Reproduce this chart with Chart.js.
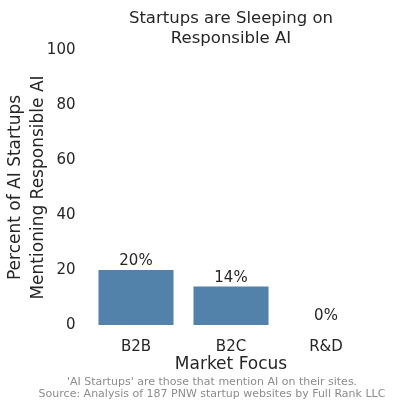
<!DOCTYPE html>
<html><head><meta charset="utf-8">
<script src="https://cdn.jsdelivr.net/npm/chart.js@4/dist/chart.umd.min.js"></script>
<style>html,body{margin:0;padding:0;background:#fff}#wrap{width:395px;height:409px;position:relative}</style>
</head><body><div id="wrap"><canvas id="c" width="395" height="409"></canvas></div>
<script>
const categories = ["B2B", "B2C", "R&D"];
const percentValues = [20, 14, 0];
const yTicks = [0, 20, 40, 60, 80, 100];
const titleLines = ["Startups are Sleeping on", "Responsible AI"];
const yTitleLines = ["Percent of AI Startups", "Mentioning Responsible AI"];
const xTitle = "Market Focus";
const footerLines = ["'AI Startups' are those that mention AI on their sites.", "Source: Analysis of 187 PNW startup websites by Full Rank LLC"];

const FONT = "'DejaVu Sans', sans-serif";
const TXT = "#262626";

const extras = {
  id: 'extras',
  afterDatasetsDraw(chart) {
    const ctx = chart.ctx;
    const meta = chart.getDatasetMeta(0);
    ctx.save();
    ctx.fillStyle = TXT;
    ctx.font = "15px " + FONT;
    ctx.textAlign = 'center';
    ctx.textBaseline = 'bottom';
    meta.data.forEach((bar, i) => {
      ctx.fillText(percentValues[i] + '%', bar.x, bar.y - 1);
    });
    const ca = chart.chartArea;
    const cx = (ca.left + ca.right) / 2;
    ctx.font = "16.5px " + FONT;
    ctx.textBaseline = 'middle';
    titleLines.forEach((t, i) => ctx.fillText(t, cx, 19 + i * 20));
    ctx.fillStyle = '#8c8c8c';
    ctx.font = "11px " + FONT;
    footerLines.forEach((t, i) => ctx.fillText(t, 212, 382 + i * 12));
    ctx.restore();
  }
};

new Chart(document.getElementById('c'), {
  type: 'bar',
  data: {
    labels: categories,
    datasets: [{
      data: percentValues,
      backgroundColor: '#5282aa',
      borderWidth: 0,
      barPercentage: 0.79,
      categoryPercentage: 1.0
    }]
  },
  options: {
    responsive: false,
    animation: false,
    devicePixelRatio: 1,
    layout: { padding: { left: 0, top: 50, right: 21.5, bottom: 34 } },
    plugins: { legend: { display: false }, tooltip: { enabled: false }, title: { display: false } },
    scales: {
      x: {
        grid: { display: false, drawTicks: false },
        border: { display: false },
        ticks: { color: TXT, font: { family: FONT, size: 15 }, padding: 13 },
        title: { display: true, text: xTitle, color: TXT, font: { family: FONT, size: 17 }, padding: { top: 1, bottom: 0 } },
        afterFit(s) { s.height = 50; }
      },
      y: {
        min: 0, max: 100,
        afterBuildTicks(s) { s.ticks = yTicks.map(v => ({ value: v })); },
        grid: { display: false, drawTicks: false },
        border: { display: false },
        ticks: { color: TXT, font: { family: FONT, size: 15 }, padding: 13 },
        title: { display: true, text: yTitleLines, color: TXT, font: { family: FONT, size: 17, lineHeight: 1.3 }, padding: { top: 5, bottom: 0 } },
        afterFit(s) { s.width = 88.5; }
      }
    }
  },
  plugins: [extras]
});
</script></body></html>
